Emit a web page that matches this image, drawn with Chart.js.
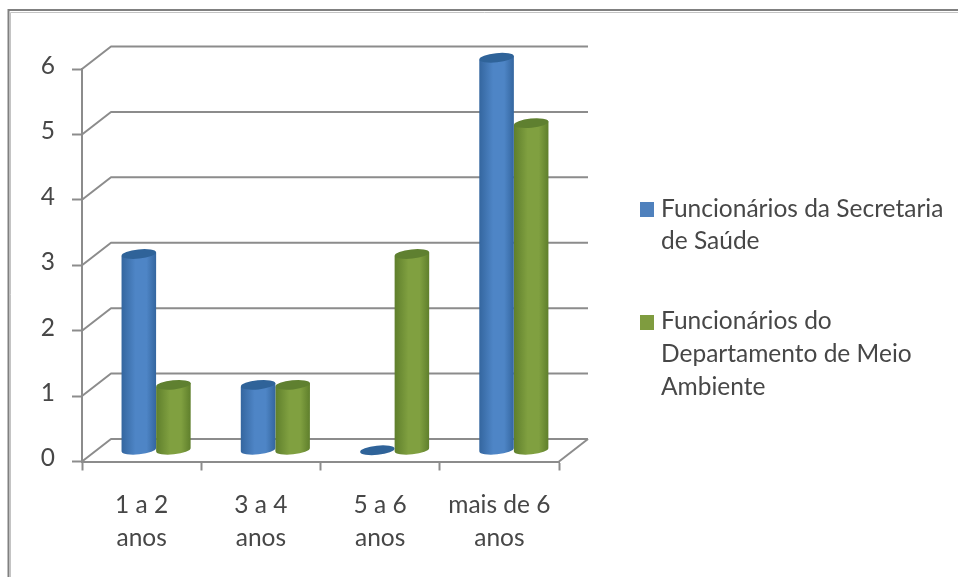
<!DOCTYPE html>
<html><head><meta charset="utf-8">
<style>html,body{margin:0;padding:0;background:#fff}canvas{display:block;filter:blur(0.5px)}</style>
<script src="https://cdn.jsdelivr.net/npm/chart.js@4"></script>
</head><body><canvas id="c" width="958" height="577"></canvas>
<script>
const categories = [['1 a 2','anos'],['3 a 4','anos'],['5 a 6','anos'],['mais de 6','anos']];
const saudeValues = [3,1,0,6];
const ambienteValues = [1,1,3,5];
const saudeLegend = ['Funcionários da Secretaria','de Saúde'];
const ambienteLegend = ['Funcionários do','Departamento de Meio','Ambiente'];
const yTicks = [0,1,2,3,4,5,6];

const FONT = 'Lato, "Open Sans", sans-serif';
const TEXT = '#474747', GRID = '#8c8c8c';
const DX = 29, DY = -22.5;
const looks = [
  {edge:'#34669f', mid:'#4e85c6', top:'#2f6399'},
  {edge:'#5f7f2c', mid:'#80a040', top:'#5f8030'}
];

const scene = {
  id:'scene',
  beforeDraw(chart){
    const g = chart.ctx;
    g.save();
    g.fillStyle='#fff'; g.fillRect(0,0,958,577);
    g.strokeStyle='#c4c4c4'; g.lineWidth=1;
    g.beginPath(); g.moveTo(10.5,577); g.lineTo(10.5,12.5); g.lineTo(958,12.5); g.stroke();
    g.strokeStyle='#808080'; g.lineWidth=2;
    g.beginPath(); g.moveTo(8.5,577); g.lineTo(8.5,10); g.lineTo(958,10); g.stroke();
    g.restore();
  },
  beforeDatasetsDraw(chart){
    const g = chart.ctx, y = chart.scales.y, a = chart.chartArea;
    g.save();
    g.strokeStyle=GRID; g.lineWidth=2; g.lineJoin='round';
    yTicks.forEach(v=>{
      const p = y.getPixelForValue(v);
      g.beginPath();
      g.moveTo(a.left,p); g.lineTo(a.left+DX,p+DY); g.lineTo(a.right+DX,p+DY);
      g.stroke();
    });
    g.beginPath();
    g.moveTo(a.right,a.bottom); g.lineTo(a.right+DX,a.bottom+DY); g.stroke();
    g.restore();
  },
  beforeDatasetDraw(chart,args){
    const g = chart.ctx, look = looks[args.index];
    const meta = chart.getDatasetMeta(args.index);
    meta.data.forEach(bar=>{
      const w = bar.width, rx = w/2, ry = 4.6, tilt = -0.1;
      const cx = bar.x + DX/2, top = bar.y + DY/2, base = bar.base + DY/2;
      const l = cx-rx, r = cx+rx;
      g.save();
      if (base-top > 0.5){
        const grad = g.createLinearGradient(l,0,r,0);
        grad.addColorStop(0,look.edge);
        grad.addColorStop(0.4,look.mid);
        grad.addColorStop(0.72,look.mid);
        grad.addColorStop(1,look.edge);
        g.fillStyle=grad;
        g.beginPath();
        g.moveTo(l,top+1.8);
        g.lineTo(l,base+1.8);
        g.ellipse(cx,base,rx,ry,tilt,Math.PI,0,true);
        g.lineTo(r,top-1.8);
        g.closePath();
        g.fill();
      }
      g.fillStyle=look.top;
      g.beginPath();
      g.ellipse(cx,top,rx,ry,tilt,0,Math.PI*2);
      g.fill();
      g.restore();
    });
    return false;
  },
  afterDraw(chart){
    const g = chart.ctx;
    g.save();
    g.font='24.5px '+FONT; g.fillStyle=TEXT; g.textBaseline='alphabetic';
    const block=(lines,sy,color,baselines)=>{
      g.fillStyle=color; g.fillRect(640,sy,14,15);
      g.fillStyle=TEXT;
      lines.forEach((t,i)=>g.fillText(t,661,baselines[i]));
    };
    block(chart.data.datasets[0].legendLines,202,'#4f81bd',[217,249]);
    block(chart.data.datasets[1].legendLines,315,'#7f9c3f',[329,362,395]);
    g.restore();
  }
};

new Chart(document.getElementById('c'),{
  type:'bar',
  data:{labels:categories,datasets:[
    {label:saudeLegend.join(' '),legendLines:saudeLegend,data:saudeValues,backgroundColor:'#4f81bd',categoryPercentage:0.58,barPercentage:1},
    {label:ambienteLegend.join(' '),legendLines:ambienteLegend,data:ambienteValues,backgroundColor:'#7f9c3f',categoryPercentage:0.58,barPercentage:1}
  ]},
  plugins:[scene],
  options:{
    responsive:false,animation:false,
    layout:{padding:{top:69,right:399,left:0,bottom:0}},
    plugins:{legend:{display:false},tooltip:{enabled:false},title:{display:false}},
    scales:{
      x:{
        afterFit(s){s.height=115.5;},
        grid:{display:true,drawOnChartArea:false,color:GRID,tickColor:GRID,tickWidth:2,tickLength:9,offset:true},
        border:{display:true,color:GRID,width:2},
        ticks:{color:TEXT,font:{family:FONT,size:24.5,lineHeight:1.31},padding:19,autoSkip:false,maxRotation:0,minRotation:0}
      },
      y:{
        min:0,max:6,
        afterFit(s){s.width=82;},
        grid:{display:true,drawOnChartArea:false,color:GRID,tickColor:GRID,tickWidth:2,tickLength:10},
        border:{display:true,color:GRID,width:2},
        ticks:{color:TEXT,font:{family:FONT,size:24.5},stepSize:1,padding:17,labelOffset:-3}
      }
    }
  }
});
</script></body></html>
